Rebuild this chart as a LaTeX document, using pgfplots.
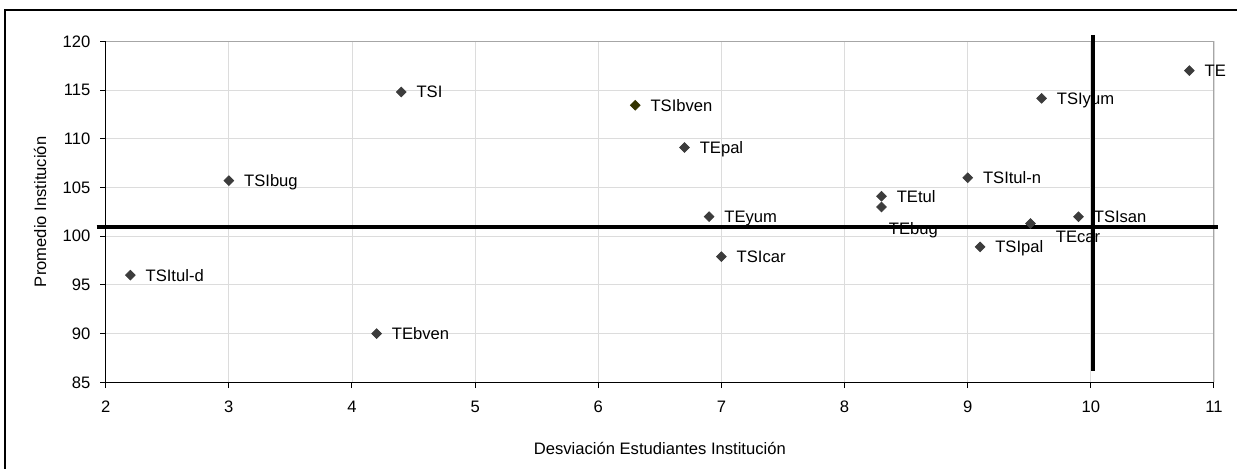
\documentclass[border=0pt]{standalone}
\usepackage{pgfplots}
\pgfplotsset{compat=1.18}
\usepackage{fontspec}
\setmainfont{Liberation Sans}
\definecolor{mk}{HTML}{3C3C3C}
\definecolor{mkolive}{HTML}{333300}
\definecolor{gridc}{HTML}{DCDCDC}
\begin{document}
\fontsize{8.3}{10}\selectfont
\begin{tikzpicture}
\useasboundingbox (0,0) rectangle (618.5pt,234pt);
\draw[black, line width=0.9pt] (2.5pt,-60pt) -- (2.5pt,229pt) -- (700pt,229pt);
\begin{axis}[
  at={(52.85pt,42.85pt)}, anchor=south west,
  scale only axis, width=554.15pt, height=170.5pt,
  xmin=2, xmax=11, ymin=85, ymax=120,
  xtick={2,3,...,11}, ytick={85,90,...,120},
  clip=false,
  grid=major, major grid style={gridc, line width=0.4pt},
  axis line style={gray!70, line width=0.5pt},
  tick style={black, line width=0.5pt},
  tick align=outside, major tick length=2.85pt,
  xtick pos=left, ytick pos=left,
  /pgf/number format/assume math mode=true,
  xticklabel style={yshift=-3.7pt},
  yticklabel style={xshift=-1.9pt},
  xlabel={Desviación Estudiantes Institución},
  ylabel={Promedio Institución},
  xlabel style={at={(axis description cs:0.5,-0.1927)}, anchor=center},
  ylabel style={at={(axis description cs:-0.0593,0.5)}, anchor=center},
  every node near coord/.append style={anchor=base west, font=\fontsize{8.3}{10}\selectfont},
]
\draw[black, line width=0.75pt] (rel axis cs:0,1) -- (rel axis cs:0,0) -- (rel axis cs:1,0);
\addplot[only marks, mark=square*, mark size=1.7pt, mark options={rotate=45, fill=mk, draw=mk},
  point meta=explicit symbolic, nodes near coords, nodes near coords align={anchor=base west},
  every node near coord/.append style={xshift=4.7pt, yshift=-3pt}]
  table[meta=label] {
x y label
2.2 96.0 TSItul-d
3.0 105.7 TSIbug
4.4 114.8 TSI
4.2 90.0 TEbven
6.7 109.1 TEpal
6.9 102.0 TEyum
7.0 97.9 TSIcar
8.3 104.1 TEtul
9.0 106.0 TSItul-n
9.1 98.9 TSIpal
9.9 102.0 TSIsan
9.6 114.15 TSIyum
10.8 117.0 TE
};
\addplot[only marks, mark=square*, mark size=1.7pt, mark options={rotate=45, fill=mkolive, draw=mkolive},
  point meta=explicit symbolic, nodes near coords, nodes near coords align={anchor=base west},
  every node near coord/.append style={xshift=4.7pt, yshift=-3pt}]
  table[meta=label] {
x y label
6.3 113.43 TSIbven
};
\addplot[only marks, mark=square*, mark size=1.7pt, mark options={rotate=45, fill=mk, draw=mk},
  point meta=explicit symbolic, nodes near coords, nodes near coords align={anchor=base west},
  every node near coord/.append style={xshift=0.74pt, yshift=-14pt}]
  table[meta=label] {
x y label
8.3 103.0 TEbug
};
\addplot[only marks, mark=square*, mark size=1.7pt, mark options={rotate=45, fill=mk, draw=mk},
  point meta=explicit symbolic, nodes near coords, nodes near coords align={anchor=base west},
  every node near coord/.append style={xshift=9.74pt, yshift=-9.35pt}]
  table[meta=label] {
x y label
9.51 101.3 TEcar
};
\addplot[black, line width=2pt, no marks] coordinates {(1.926,100.92) (11.03,100.92)};
\addplot[black, line width=2pt, no marks] coordinates {(10.02,120.65) (10.02,86.16)};
\end{axis}
\end{tikzpicture}
\end{document}
